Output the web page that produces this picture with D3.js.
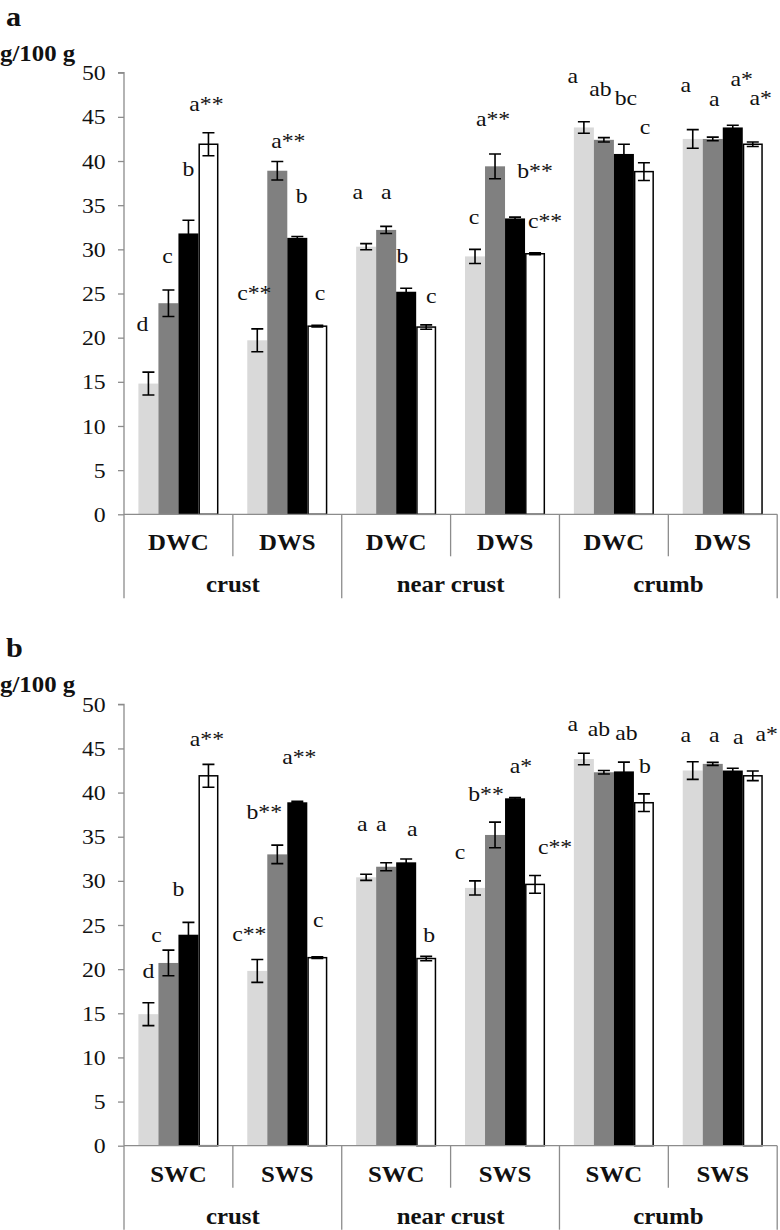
<!DOCTYPE html>
<html>
<head>
<meta charset="utf-8">
<script src="https://cdn.jsdelivr.net/npm/d3@7"></script>
<style>
  html, body { margin: 0; padding: 0; background: #fff; }
  svg { display: block; }
</style>
</head>
<body>
<div id="chart"></div>
<script>
// ---------------- DATA ----------------
const mainGroups = ["crust", "near crust", "crumb"];
const subLabelsA = ["DWC", "DWS"];
const subLabelsB = ["SWC", "SWS"];
const yTicks = [0, 5, 10, 15, 20, 25, 30, 35, 40, 45, 50];

// panel a: 6 sub-groups (crust DWC, crust DWS, near crust DWC, near crust DWS, crumb DWC, crumb DWS) x 4 bars
const valuesA = [
  [14.8, 23.9, 31.8, 41.9],
  [19.7, 38.9, 31.3, 21.3],
  [30.3, 32.2, 25.2, 21.2],
  [29.2, 39.4, 33.5, 29.5],
  [43.8, 42.4, 40.8, 38.8],
  [42.5, 42.5, 43.8, 41.9]
];
const errorsA = [
  [1.3, 1.5, 1.5, 1.3],
  [1.3, 1.05, 0.15, 0.1],
  [0.35, 0.4, 0.4, 0.25],
  [0.8, 1.4, 0.15, 0.1],
  [0.65, 0.25, 1.1, 1.0],
  [1.05, 0.2, 0.25, 0.25]
];
const lettersA = [
  ["d", "c", "b", "a**"],
  ["c**", "a**", "b", "c"],
  ["a", "a", "b", "c"],
  ["c", "a**", "b**", "c**"],
  ["a", "ab", "bc", "c"],
  ["a", "a", "a*", "a*"]
];
// letter placement: height on the value axis, and horizontal shift
const letterYA = [
  [21.4, 29.1, 39.0, 46.3],
  [24.9, 42.2, 35.9, 24.9],
  [36.35, 36.35, 29.1, 24.6],
  [33.5, 44.6, 38.8, 33.1],
  [49.5, 48.0, 47.0, 43.7],
  [48.5, 46.9, 49.2, 47.0]
];
const letterDxA = [
  [-6, -1, 0, -2],
  [-3, 11, 4.5, 2.7],
  [-8.4, 0, -3.7, 5],
  [-1, -2, 20, 10],
  [-11, -3.4, 2, 1],
  [-7, 1.5, 9, 8]
];

// panel b
const valuesB = [
  [14.9, 20.7, 23.9, 41.9],
  [19.8, 33.0, 38.9, 21.3],
  [30.4, 31.6, 32.1, 21.2],
  [29.2, 35.2, 39.35, 29.6],
  [43.8, 42.3, 42.4, 38.85],
  [42.5, 43.25, 42.5, 41.9]
];
const errorsB = [
  [1.3, 1.45, 1.4, 1.3],
  [1.3, 1.05, 0.1, 0.1],
  [0.35, 0.45, 0.38, 0.25],
  [0.8, 1.45, 0.1, 1.0],
  [0.65, 0.2, 1.05, 1.0],
  [1.0, 0.17, 0.25, 0.55]
];
const lettersB = [
  ["d", "c", "b", "a**"],
  ["c**", "b**", "a**", "c"],
  ["a", "a", "a", "b"],
  ["c", "b**", "a*", "c**"],
  ["a", "ab", "ab", "b"],
  ["a", "a", "a", "a*"]
];
const letterYB = [
  [19.7, 23.7, 29.0, 46.0],
  [23.9, 37.65, 43.9, 25.5],
  [36.3, 36.3, 35.8, 23.75],
  [33.2, 39.7, 42.9, 33.7],
  [47.7, 47.1, 46.6, 42.9],
  [46.4, 46.4, 46.15, 46.5]
];
const letterDxB = [
  [0, -12, -10, -1.5],
  [-8, -13, 2, 1],
  [-4, -5, 6, 3],
  [-15, -9, 6, 20],
  [-11, -5, 2.6, 1],
  [-7, 1.5, 5.5, 14]
];

// ---------------- DRAW ----------------
const W = 780, H = 1230;
const SX = 1.08; // horizontal stretch of the reference typography
const svg = d3.select("#chart").append("svg")
  .attr("width", W).attr("height", H)
  .style("font-family", "'Liberation Serif','Times New Roman',serif");

const fills = ["#d9d9d9", "#808080", "#000000", "#ffffff"];
const axisColor = "#8c8c8c";

function addText(parent, x, y, str, size, bold, anchor) {
  return parent.append("text")
    .attr("transform", `translate(${x},${y}) scale(${SX},1)`)
    .attr("text-anchor", anchor || "start")
    .attr("font-size", size)
    .attr("font-weight", bold ? "bold" : "normal")
    .attr("fill", "#111")
    .text(str);
}

function drawPanel(cfg) {
  const g = svg.append("g");
  const x0 = d3.scaleBand().domain(d3.range(6)).range([124, 777.2]).paddingInner(0).paddingOuter(0);
  const x1 = d3.scaleBand().domain(d3.range(4)).range([0, x0.bandwidth()]).paddingInner(0).paddingOuter(0.72);
  const y = d3.scaleLinear().domain([0, 50]).range([cfg.yBottom, cfg.yTop]);

  // panel letter + unit
  addText(g, 6, cfg.yTop - 47, cfg.panel, 28, true);
  addText(g, 0, cfg.yTop - 12, "g/100 g", 23, true);

  // y axis
  const ax = g.append("g").attr("transform", `translate(124,0)`)
    .call(d3.axisLeft(y).tickValues(yTicks).tickSize(6).tickPadding(11).tickFormat(d3.format("d")));
  ax.select(".domain").attr("stroke", axisColor).attr("stroke-width", 1.3)
    .attr("d", `M-6,${y(50)}H0V${y(0)}`);
  ax.selectAll(".tick line").attr("stroke", axisColor).attr("stroke-width", 1.3);
  ax.selectAll(".tick text").attr("font-size", 22).attr("fill", "#111")
    .attr("transform", `scale(${SX},1)`)
    .attr("font-family", "'Liberation Serif','Times New Roman',serif");

  // bars
  const grp = g.selectAll("g.grp").data(cfg.values).join("g")
    .attr("class", "grp").attr("transform", (d, i) => `translate(${x0(i)},0)`);
  grp.selectAll("rect").data(d => d).join("rect")
    .attr("x", (d, j) => x1(j) + (j === 3 ? 0.75 : 0))
    .attr("width", (d, j) => x1.bandwidth() - (j === 3 ? 1.5 : 0))
    .attr("y", d => y(d))
    .attr("height", d => y(0) - y(d))
    .attr("fill", (d, j) => fills[j])
    .attr("stroke", (d, j) => j === 3 ? "#000" : "none")
    .attr("stroke-width", 1.5);

  // error bars + letters
  grp.each(function (vals, i) {
    const gg = d3.select(this);
    vals.forEach((v, j) => {
      const e = cfg.errors[i][j];
      const cx = x1(j) + x1.bandwidth() / 2;
      const cap = 6;
      const path = `M${cx - cap},${y(v + e)}H${cx + cap}M${cx},${y(v + e)}V${y(v - e)}M${cx - cap},${y(v - e)}H${cx + cap}`;
      gg.append("path").attr("d", path).attr("stroke", "#000").attr("stroke-width", 1.6).attr("fill", "none");
      addText(gg, cx + cfg.letterDx[i][j], y(cfg.letterY[i][j]) + 6, cfg.letters[i][j], 22, false, "middle");
    });
  });

  // x axis line and dividers
  g.append("line").attr("x1", 124).attr("x2", 777.2).attr("y1", y(0)).attr("y2", y(0))
    .attr("stroke", axisColor).attr("stroke-width", 1.3);
  d3.range(7).forEach(k => {
    const xx = k < 6 ? x0(k) : x0(5) + x0.bandwidth();
    const long = k % 2 === 0;
    g.append("line").attr("x1", xx).attr("x2", xx)
      .attr("y1", y(0)).attr("y2", y(0) + (long ? 84 : 42))
      .attr("stroke", axisColor).attr("stroke-width", 1.3);
  });
  // sub labels
  d3.range(6).forEach(k => {
    addText(g, x0(k) + x0.bandwidth() / 2, y(0) + 36, cfg.subs[k % 2], 23, true, "middle");
  });
  mainGroups.forEach((m, k) => {
    addText(g, x0(2 * k) + x0.bandwidth(), y(0) + 78, m, 23, true, "middle");
  });
}

drawPanel({ panel: "a", yTop: 72.7, yBottom: 514.3, values: valuesA, errors: errorsA,
  letters: lettersA, letterY: letterYA, letterDx: letterDxA, subs: subLabelsA });
drawPanel({ panel: "b", yTop: 704.3, yBottom: 1145.7, values: valuesB, errors: errorsB,
  letters: lettersB, letterY: letterYB, letterDx: letterDxB, subs: subLabelsB });
</script>
</body>
</html>
